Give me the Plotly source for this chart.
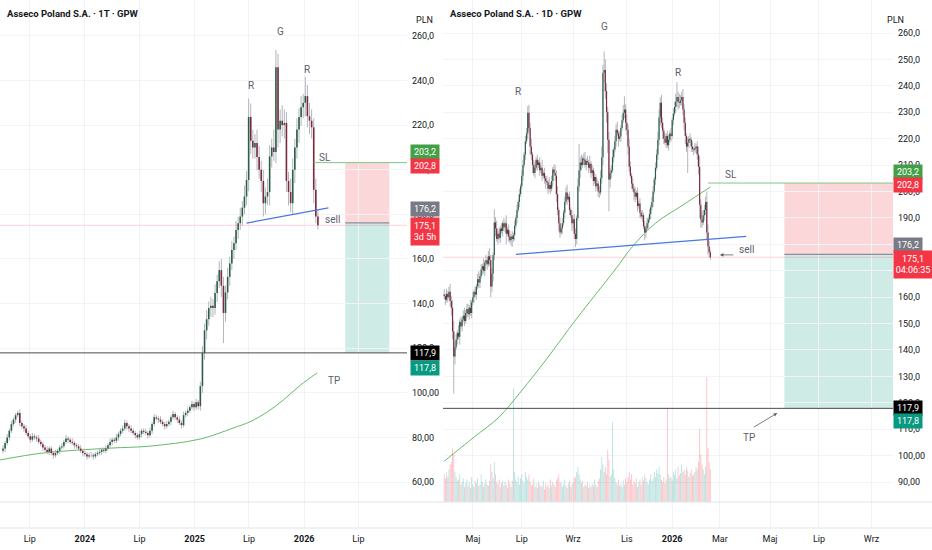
import pandas as pd
import plotly.graph_objects as go

# ---------------- weekly chart (1T) ----------------
w_start = "2023-04-03"
w_first_open = 74.0
w_close = [75.0, 77.5, 80.0, 83.0, 86.0, 88.0, 90.0, 91.0, 86.5, 85.0,
           84.0, 82.0, 80.5, 79.0, 80.5, 80.0, 79.5, 78.0, 77.0, 75.5,
           74.5, 73.5, 75.0, 73.0, 72.0, 73.0, 74.0, 75.5, 76.0, 78.0,
           79.5, 79.0, 78.0, 77.5, 76.5, 76.0, 75.0, 74.0, 73.0, 72.5,
           71.5, 72.0, 72.0, 71.5, 72.5, 73.0, 73.5, 74.5, 74.0, 75.0,
           76.5, 78.0, 79.0, 78.5, 80.0, 81.5, 83.0, 84.0, 86.5, 85.0,
           84.0, 83.0, 82.0, 81.0, 80.0, 81.5, 83.0, 82.5, 82.0, 81.0,
           83.0, 86.0, 89.0, 88.5, 88.0, 87.0, 86.0, 85.0, 86.0, 87.0,
           89.0, 90.5, 89.0, 88.0, 86.5, 85.5, 90.0, 91.0, 92.0, 93.5,
           95.0, 93.5, 95.8, 94.0, 103.0, 117.9, 128.0, 133.0, 138.0, 139.0,
           138.0, 144.7, 150.0, 155.0, 148.0, 135.8, 145.0, 152.0, 158.0, 164.0,
           167.0, 173.0, 176.0, 179.0, 183.0, 188.0, 195.4, 223.7, 213.0, 210.0,
           212.0, 205.7, 200.0, 195.0, 185.0, 188.0, 190.0, 206.0, 210.0, 208.0,
           246.0, 218.0, 222.0, 220.0, 221.0, 195.0, 190.0, 185.0, 200.0, 210.0,
           218.0, 223.7, 228.0, 230.0, 233.0, 224.0, 222.0, 219.0, 191.0, 179.0,
           175.1]
w_up = [1.5, 1, 1.5, 1, 1.5, 1, 1, 1, 1.5, 1,
        1, 1.5, 1, 1, 1.5, 1, 1, 1.5, 1, 1,
        1, 1.5, 1, 1, 1, 1.5, 1, 1, 1.5, 1,
        1.5, 1, 1, 1.5, 1, 1, 1, 1.5, 1, 1,
        1, 1, 1.5, 1, 1, 1, 1.5, 1, 1, 1.5,
        1, 1.5, 1, 1, 1.5, 1, 1, 1.5, 1.5, 1,
        1, 1.5, 1, 1, 1, 1.5, 1, 1, 1.5, 1,
        1.5, 1, 1.5, 1, 1, 1.5, 1, 1, 1.5, 1,
        1, 1.5, 1, 1, 1.5, 1, 1.5, 1, 1.5, 1,
        1.5, 1, 1.5, 1, 2, 3, 3, 4, 3, 4,
        3, 4, 3, 4, 5, 4, 3, 4, 3, 4,
        3, 4, 3, 4, 3, 5, 4, 8.3, 6, 5,
        4, 6, 5, 4, 5, 4, 6, 5, 4, 8,
        7.7, 6, 5, 7, 6, 5, 4, 6, 5, 4,
        5, 4, 5, 4, 8.6, 5, 6, 5, 4, 5,
        3]
w_dn = [1, 1.5, 1, 1.5, 1, 1, 1.5, 1, 1.5, 1,
        1.5, 1, 1, 1.5, 1, 1, 1.5, 1, 1, 1.5,
        1, 1, 1.5, 1, 1.5, 1, 1, 1.5, 1, 1,
        1, 1.5, 1, 1, 1.5, 1, 1, 1, 1.5, 1,
        1.5, 1, 1, 1.5, 1, 1, 1, 1.5, 1, 1,
        1, 1, 1.5, 1, 1, 1.5, 1, 1, 1, 1.5,
        1.5, 1, 1, 1.5, 1, 1, 1.5, 1, 1, 1.5,
        1, 1.5, 1, 1, 1.5, 1, 1, 1.5, 1, 1,
        1.5, 1, 1, 1.5, 1, 1.5, 1, 1, 1.5, 1,
        1, 1.5, 1, 1.5, 2, 3, 3, 4, 3, 4,
        4, 3, 4, 3, 5, 13.5, 4, 3, 4, 3,
        4, 3, 4, 3, 4, 3, 4, 5, 6, 5,
        5, 6, 4, 5, 6, 5, 4, 6, 5, 4,
        5, 8, 6, 5, 6, 5, 6, 4, 5, 6,
        5, 6, 4, 5, 6, 5, 6, 5, 6, 3,
        2]

# ---------------- daily chart (1D) ----------------
d_start = "2025-03-26"
gpw_holidays = ["2025-04-18", "2025-04-21", "2025-05-01", "2025-06-19", "2025-08-15",
                "2025-11-11", "2025-12-24", "2025-12-25", "2025-12-26", "2025-12-31",
                "2026-01-01", "2026-01-06", "2026-04-03", "2026-04-06", "2026-05-01",
                "2026-06-04"]
d_first_open = 161.0
d_close = [160.4, 159.0, 161.2, 160.0, 162.0, 158.5, 156.0, 147.0, 137.5, 141.0,
           144.0, 146.5, 145.0, 150.6, 149.0, 151.5, 153.0, 151.0, 154.0, 155.5,
           153.5, 156.0, 154.0, 158.0, 160.0, 162.0, 161.0, 164.0, 166.8, 165.5,
           168.0, 170.5, 171.7, 170.0, 173.0, 174.0, 172.5, 175.5, 174.0, 164.0,
           169.0, 176.0, 188.3, 186.0, 182.0, 184.0, 182.5, 186.0, 185.0, 188.0,
           186.5, 188.0, 184.0, 185.5, 183.0, 181.5, 183.0, 182.0, 183.5, 187.0,
           190.0, 193.0, 196.0, 199.0, 202.0, 206.0, 210.0, 214.0, 219.0, 222.0,
           229.8, 224.0, 217.0, 214.0, 210.0, 207.0, 209.0, 212.0, 210.0, 211.0,
           208.0, 209.0, 206.0, 207.0, 205.0, 204.0, 203.4, 201.0, 202.5, 201.0,
           204.0, 208.3, 207.0, 206.0, 199.0, 193.0, 188.0, 184.5, 186.0, 188.0,
           192.0, 196.0, 199.6, 197.0, 198.0, 193.0, 191.0, 188.0, 189.5, 184.0,
           182.0, 190.0, 202.0, 208.0, 211.0, 210.0, 212.5, 212.0, 210.0, 211.5,
           211.0, 209.0, 210.5, 207.0, 208.0, 204.0, 205.5, 202.0, 203.0, 200.0,
           199.6, 205.0, 213.0, 245.0, 246.0, 238.0, 230.0, 219.6, 204.5, 207.0,
           208.0, 213.0, 215.8, 219.0, 223.4, 222.0, 220.0, 220.8, 224.0, 227.0,
           229.8, 231.0, 226.0, 223.4, 217.0, 209.4, 206.0, 203.0, 201.0, 199.6,
           198.0, 199.5, 194.5, 195.5, 192.0, 190.5, 191.0, 186.8, 184.5, 186.0,
           188.0, 189.4, 191.5, 194.0, 196.0, 200.0, 204.5, 209.0, 214.0, 219.6,
           228.0, 233.6, 226.0, 223.0, 220.0, 218.5, 221.0, 217.5, 219.6, 222.0,
           221.0, 227.0, 229.5, 232.0, 234.0, 235.8, 234.0, 233.6, 234.5, 235.8,
           231.0, 226.0, 221.0, 217.0, 218.5, 220.0, 219.6, 217.0, 216.0, 215.8,
           216.5, 217.0, 214.0, 209.4, 195.0, 189.4, 188.3, 191.0, 193.0, 196.0,
           184.5, 179.2, 177.0, 175.1]
d_up = [2, 1, 2, 1, 2, 3, 2, 3, 4, 2,
        2, 1, 3, 1, 2, 1, 2, 3, 1, 2,
        2, 1, 3, 1, 2, 1, 2, 1, 2, 3,
        1, 2, 1, 3, 1, 2, 1, 2, 3, 2,
        2, 1, 5, 2, 3, 1, 2, 1, 2, 1,
        2, 1, 3, 1, 2, 2, 1, 2, 1, 2,
        1, 2, 1, 2, 1, 2, 2, 1, 2, 2,
        2.5, 3, 2, 3, 1, 2, 2, 1, 2, 1,
        2, 1, 3, 1, 2, 1, 2, 1, 3, 1,
        2, 1, 2, 3, 2, 3, 1, 2, 1, 2,
        1, 2, 2, 3, 1, 2, 1, 2, 1, 2,
        2, 1, 3, 10, 2, 3, 1, 2, 3, 1,
        2, 1, 3, 1, 2, 1, 2, 1, 2, 1,
        2, 3, 4, 3, 7, 4, 3, 2, 3, 2,
        2, 3, 1, 2, 2, 3, 1, 2, 1, 2,
        3, 5, 2, 3, 2, 3, 2, 1, 2, 1,
        2, 1, 2, 1, 2, 1, 2, 1, 2, 1,
        2, 1, 2, 1, 2, 2, 1, 2, 2, 3,
        3, 2, 3, 2, 1, 2, 1, 2, 2, 1,
        2, 1, 2, 2, 3, 5.6, 2, 3, 2, 2,
        3, 2, 2, 1, 2, 1, 2, 1, 2, 1,
        2, 1, 2, 3, 4, 2, 3, 2, 2, 2,
        4, 3, 2, 1]
d_dn = [1, 2, 1, 2, 1, 2, 3, 3, 14, 3,
        1, 2, 1, 3, 1, 2, 1, 2, 1, 2,
        1, 2, 1, 2, 1, 2, 1, 2, 1, 2,
        2, 1, 2, 1, 2, 1, 2, 1, 2, 4,
        2, 3, 2, 3, 1, 2, 1, 2, 1, 2,
        1, 2, 4, 1, 2, 1, 2, 3, 1, 2,
        1, 2, 1, 2, 1, 1, 2, 1, 2, 1,
        2, 1, 3, 2, 3, 1, 2, 1, 2, 1,
        2, 1, 2, 1, 2, 3, 1, 2, 1, 2,
        1, 2, 1, 2, 3, 2, 3, 2, 1, 2,
        1, 2, 1, 2, 1, 2, 1, 3, 2, 2,
        3, 2, 1, 2, 3, 2, 1, 2, 1, 2,
        1, 2, 1, 2, 1, 2, 1, 2, 1, 2,
        2, 1, 2, 3, 4, 3, 4, 5, 12, 3,
        2, 1, 2, 1, 2, 1, 3, 1, 2, 1,
        1, 2, 3, 2, 3, 2, 1, 2, 1, 3,
        2, 1, 2, 1, 2, 1, 2, 1, 3, 2,
        1, 2, 1, 2, 1, 2, 1, 2, 1, 2,
        2, 3, 2, 3, 2, 1, 2, 1, 2, 1,
        2, 1, 2, 1, 2, 2, 3, 2, 1, 2,
        2, 3, 3, 2, 10, 2, 1, 2, 1, 2,
        1, 2, 2, 3, 5, 3, 2, 1, 2, 2,
        3, 3, 2, 1]
# wolumen w tys. akcji
d_volume = [110, 95, 120, 100, 130, 150, 160, 215, 190, 120,
            100, 85, 90, 110, 70, 80, 95, 60, 75, 90,
            65, 80, 55, 100, 70, 60, 85, 75, 95, 65,
            70, 110, 80, 60, 75, 90, 70, 65, 85, 150,
            120, 95, 160, 110, 80, 70, 90, 60, 75, 85,
            65, 80, 70, 55, 90, 75, 60, 85, 456, 120,
            90, 80, 100, 70, 95, 110, 85, 75, 120, 100,
            90, 110, 80, 65, 70, 95, 60, 75, 55, 80,
            70, 60, 65, 85, 50, 75, 60, 70, 55, 90,
            65, 80, 70, 60, 85, 95, 110, 75, 80, 60,
            70, 90, 65, 55, 75, 85, 60, 70, 80, 95,
            100, 120, 140, 110, 90, 75, 85, 60, 70, 65,
            80, 55, 70, 60, 75, 65, 90, 70, 60, 85,
            95, 130, 180, 150, 120, 140, 110, 208, 170, 100,
            110, 320, 130, 95, 80, 70, 90, 65, 75, 60,
            85, 70, 95, 80, 100, 120, 90, 110, 70, 85,
            75, 95, 60, 80, 90, 70, 100, 85, 110, 95,
            80, 70, 90, 110, 85, 95, 120, 100, 130, 115,
            140, 110, 90, 80, 100, 75, 90, 376, 110, 95,
            100, 85, 120, 110, 130, 95, 140, 105, 115, 150,
            120, 130, 110, 140, 125, 100, 115, 130, 105, 110,
            120, 140, 130, 160, 292, 190, 150, 130, 110, 140,
            500, 216, 160, 130]

# średnie kroczące
sma_w_dates = ["2023-03-24", "2023-08-14", "2024-03-25", "2024-08-05", "2025-01-20", "2025-05-09",
               "2025-07-04", "2025-08-31", "2025-10-24", "2025-12-20", "2026-02-13"]
sma_w_vals = [69.9, 73.0, 75.2, 76.1, 79.3, 84.2, 87.0, 91.4, 96.8, 103.5, 108.9]
sma_d_dates = ["2025-03-26", "2025-05-05", "2025-06-03", "2025-06-30", "2025-07-31", "2025-09-03",
               "2025-10-20", "2025-11-10", "2025-12-08", "2026-01-16", "2026-02-18"]
sma_d_vals = [97.9, 107.0, 114.6, 124.1, 137.3, 151.3, 170.3, 179.3, 188.0, 194.9, 201.7]

# poziomy pozycji
sl = 203.2
sl_ask = 202.8
entry = 176.2
last = 175.1
tp = 117.9
tp_bid = 117.8

FONT = "Liberation Sans Narrow, Roboto, Arial, sans-serif"
TXT = "#131722"
GRAY = "#5d606b"
UP = "#2b5f45"
DOWN = "#7b2a3c"
WICK = "#b2b5be"
W, H = 932, 550


def ohlc(first_open, close, up, dn):
    o = [first_open] + close[:-1]
    h = [max(a, b) + u for a, b, u in zip(o, close, up)]
    l = [min(a, b) - d for a, b, d in zip(o, close, dn)]
    return o, h, l


def candles(x, o, h, l, c, xa, ya, bw):
    wx, wy, ux, uy, dx, dy = [], [], [], [], [], []
    for xi, oi, hi, li, ci in zip(x, o, h, l, c):
        wx += [xi, xi, None]
        wy += [li, hi, None]
        if ci >= oi:
            ux += [xi, xi, None]
            uy += [oi, ci, None]
        else:
            dx += [xi, xi, None]
            dy += [oi, ci, None]
    out = []
    for xx, yy, col, wd in [(wx, wy, WICK, 1), (ux, uy, UP, bw), (dx, dy, DOWN, bw)]:
        out.append(go.Scatter(x=xx, y=yy, mode="lines", line=dict(color=col, width=wd),
                              xaxis=xa, yaxis=ya, hoverinfo="skip", showlegend=False))
    return out


w_dates = pd.date_range(w_start, periods=len(w_close), freq="W-MON")
d_dates = pd.bdate_range(d_start, periods=len(d_close), freq="C", holidays=gpw_holidays)
w_open, w_high, w_low = ohlc(w_first_open, w_close, w_up, w_dn)
d_open, d_high, d_low = ohlc(d_first_open, d_close, d_up, d_dn)

fig = go.Figure()

# średnie
fig.add_trace(go.Scatter(x=sma_w_dates, y=sma_w_vals, mode="lines", line=dict(color="#66bb6a", width=1, shape="spline"),
                         xaxis="x", yaxis="y", hoverinfo="skip", showlegend=False))
fig.add_trace(go.Scatter(x=sma_d_dates, y=sma_d_vals, mode="lines", line=dict(color="#66bb6a", width=1, shape="spline"),
                         xaxis="x2", yaxis="y2", hoverinfo="skip", showlegend=False))

for t in candles(w_dates, w_open, w_high, w_low, w_close, "x", "y", 1.6):
    fig.add_trace(t)
for t in candles(d_dates, d_open, d_high, d_low, d_close, "x2", "y2", 1.2):
    fig.add_trace(t)

# wolumen (prawy panel, oś nałożona)
vol_col = ["rgba(38,166,154,0.32)" if c >= o else "rgba(242,54,69,0.3)" for o, c in zip(d_open, d_close)]
fig.add_trace(go.Bar(x=d_dates, y=d_volume, marker=dict(color=vol_col, line=dict(width=0)),
                     xaxis="x2", yaxis="y3", hoverinfo="skip", showlegend=False))

# zakresy osi
w_range = ["2023-03-24", "2026-12-10"]
d_range = ["2025-03-25", "2026-09-25"]


def panel_shapes(xr, yr, xrange, pos_x0, pos_x1, sl_x0, trend):
    s = []
    s.append(dict(type="rect", xref=xr, yref=yr, x0=pos_x0, x1=pos_x1, y0=entry, y1=sl,
                  fillcolor="rgba(242,54,69,0.2)", line=dict(width=0), layer="below"))
    s.append(dict(type="rect", xref=xr, yref=yr, x0=pos_x0, x1=pos_x1, y0=tp, y1=entry,
                  fillcolor="rgba(8,153,129,0.2)", line=dict(width=0), layer="below"))
    s.append(dict(type="line", xref=xr, yref=yr, x0=pos_x0, x1=pos_x1, y0=entry, y1=entry,
                  line=dict(color="#8a8d96", width=1.2)))
    s.append(dict(type="line", xref=xr, yref=yr, x0=sl_x0, x1=xrange[1], y0=sl, y1=sl,
                  line=dict(color="#81c784", width=1)))
    s.append(dict(type="line", xref=xr, yref=yr, x0=xrange[0], x1=xrange[1], y0=last, y1=last,
                  line=dict(color="rgba(242,54,69,0.22)", width=1)))
    s.append(dict(type="line", xref=xr, yref=yr, x0=xrange[0], x1=xrange[1], y0=tp, y1=tp,
                  line=dict(color="#4a4a4a", width=1)))
    s.append(dict(type="line", xref=xr, yref=yr, x0=trend[0], y0=trend[1], x1=trend[2], y1=trend[3],
                  line=dict(color="#4a78e0", width=1.2)))
    return s


shapes = panel_shapes("x", "y", w_range, "2026-05-18", "2026-10-12", "2026-02-02",
                      ("2025-06-23", 176.1, "2026-03-23", 182.9))
shapes += panel_shapes("x2", "y2", d_range, "2026-05-20", d_range[1], "2026-02-16",
                       ("2025-06-24", 176.2, "2026-04-01", 183.0))
for ypx in (502, 528):
    shapes.append(dict(type="line", xref="paper", yref="paper", x0=0, x1=1, y0=1 - ypx / H, y1=1 - ypx / H,
                       line=dict(color="#e0e3eb", width=1)))

ann = []
# tytuły
ann.append(dict(text="<b>Asseco Poland S.A. · 1T · GPW</b>", x=5 / W, y=1 - 13 / H, xref="paper", yref="paper",
                xanchor="left", yanchor="middle", showarrow=False, font=dict(size=9.5, color=TXT, family=FONT)))
ann.append(dict(text="<b>Asseco Poland S.A. · 1D · GPW</b>", x=448 / W, y=1 - 13 / H, xref="paper", yref="paper",
                xanchor="left", yanchor="middle", showarrow=False, font=dict(size=9.5, color=TXT, family=FONT)))
for xp in (424, 906):
    ann.append(dict(text="PLN", x=xp / W, y=1 - 13 / H, xref="paper", yref="paper", showarrow=False,
                    font=dict(size=9, color=TXT, family=FONT)))

# napisy na wykresie
labels_w = [("R", "2025-07-07", 237.6), ("G", "2025-10-15", 262.2), ("R", "2026-01-09", 244.8),
            ("SL", "2026-03-13", 205.7), ("sell", "2026-04-06", 177.5), ("TP", "2026-04-10", 105.7)]
labels_d = [("R", "2025-06-26", 238.0), ("G", "2025-10-07", 262.3), ("R", "2026-01-12", 245.2),
            ("SL", "2026-03-13", 206.6), ("sell", "2026-04-01", 178.2), ("TP", "2026-04-07", 107.0)]
for lab, xr, yr in [(labels_w, "x", "y"), (labels_d, "x2", "y2")]:
    for t, xx, yy in lab:
        ann.append(dict(text=t, x=xx, y=yy, xref=xr, yref=yr, showarrow=False,
                        font=dict(size=10, color=GRAY, family=FONT)))

# strzałki
ann.append(dict(text="", x="2026-03-02", y=176.0, xref="x2", yref="y2", ax=15, ay=0, showarrow=True,
                arrowhead=2, arrowsize=0.9, arrowwidth=0.8, arrowcolor=GRAY))
ann.append(dict(text="", x="2026-05-12", y=116.1, xref="x2", yref="y2", ax=-25, ay=15, showarrow=True,
                arrowhead=2, arrowsize=0.9, arrowwidth=0.8, arrowcolor=GRAY))


def badge(text, price, yref, xp, bg, shift, w=26, h=12, color="white"):
    return dict(text=text, x=xp / W, y=price, xref="paper", yref=yref, xanchor="left", yanchor="middle",
                yshift=shift, showarrow=False, bgcolor=bg, width=w, height=h, borderpad=1, align="center",
                font=dict(size=9, color=color, family=FONT))


for yr, xp, sh, ext, wl in [("y", 410, (11, -2.5, 14, -6, 0, -15), "3d 5h", 26),
                            ("y2", 893, (11.5, -1, 9, -7, 0, -12.5), "04:06:35", 36)]:
    ann.append(badge(f"{sl:.1f}".replace(".", ","), sl, yr, xp, "#43a047", sh[0]))
    ann.append(badge(f"{sl_ask:.1f}".replace(".", ","), sl_ask, yr, xp, "#f23645", sh[1]))
    ann.append(badge(f"{entry:.1f}".replace(".", ","), entry, yr, xp, "#787b86", sh[2]))
    ann.append(badge(f"{last:.1f}".replace(".", ",") + "<br>" + ext, last, yr, xp, "#f23645", sh[3], w=wl, h=25))
    ann.append(badge(f"{tp:.1f}".replace(".", ","), tp, yr, xp, "#000000", sh[4]))
    ann.append(badge(f"{tp_bid:.1f}".replace(".", ","), tp_bid, yr, xp, "#089981", sh[5]))


def price_ticks(lo, hi, step):
    vals = list(range(lo, hi + 1, step))
    txt = [(f"{v:.2f}" if v <= 100 else f"{v:.1f}").replace(".", ",") for v in vals]
    return vals, txt


wy_vals, wy_txt = price_ticks(60, 260, 20)
dy_vals, dy_txt = price_ticks(90, 260, 10)

grid = "#f2f3f6"
tickfont = dict(size=9, color=TXT, family=FONT)
ybottom = 1 - 528 / H

fig.update_layout(
    width=W, height=H, margin=dict(l=0, r=0, t=0, b=0),
    paper_bgcolor="white", plot_bgcolor="white", showlegend=False, hovermode=False,
    bargap=0.25,
    xaxis=dict(domain=[0, 407 / W], anchor="y", type="date", range=w_range,
               tickvals=["2023-07-01", "2024-01-01", "2024-07-01", "2025-01-01", "2025-07-01", "2026-01-01", "2026-07-01"],
               ticktext=["Lip", "<b>2024</b>", "Lip", "<b>2025</b>", "Lip", "<b>2026</b>", "Lip"],
               showgrid=True, gridcolor=grid, zeroline=False, ticks="", ticklabelstandoff=4, tickfont=tickfont),
    yaxis=dict(domain=[ybottom, 1], anchor="x", side="right", range=[39.4, 276.1],
               tickvals=wy_vals, ticktext=wy_txt, showgrid=True, gridcolor=grid, zeroline=False,
               ticks="", ticklabelstandoff=4, tickfont=tickfont),
    xaxis2=dict(domain=[443 / W, 893 / W], anchor="y2", type="date", range=d_range,
                rangebreaks=[dict(bounds=["sat", "mon"]), dict(values=gpw_holidays)],
                tickvals=["2025-05-02", "2025-07-01", "2025-09-01", "2025-11-03", "2026-01-02",
                          "2026-03-02", "2026-05-04", "2026-07-01", "2026-09-01"],
                ticktext=["Maj", "Lip", "Wrz", "Lis", "<b>2026</b>", "Mar", "Maj", "Lip", "Wrz"],
                showgrid=True, gridcolor=grid, zeroline=False, ticks="", ticklabelstandoff=4, tickfont=tickfont),
    yaxis2=dict(domain=[ybottom, 1], anchor="x2", side="right", range=[72.6, 272.5],
                tickvals=dy_vals, ticktext=dy_txt, showgrid=True, gridcolor=grid, zeroline=False,
                ticks="", ticklabelstandoff=4, tickfont=tickfont),
    yaxis3=dict(overlaying="y2", anchor="x2", range=[-104, 2008], visible=False, fixedrange=True),
    shapes=shapes,
    annotations=ann,
)

fig.write_html("out.html", config={"displayModeBar": False},
               post_script="document.body.style.margin='0';")
